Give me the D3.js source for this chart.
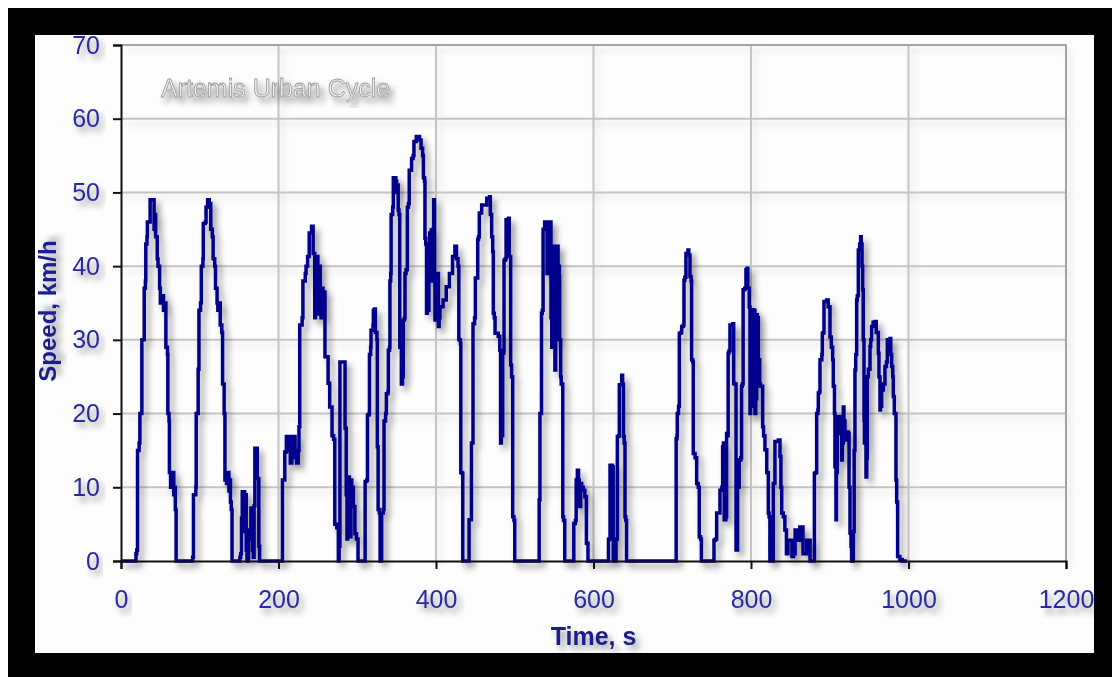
<!DOCTYPE html>
<html>
<head>
<meta charset="utf-8">
<script src="https://cdn.jsdelivr.net/npm/d3@7"></script>
<style>
  html, body { margin: 0; padding: 0; background: #fff; }
  svg { display: block; }
</style>
</head>
<body>
<div id="chart"></div>
<script>
// Artemis Urban Cycle speed trace as [time s, speed km/h]
const idleStart = [[0, 0], [17, 0], [19, 1], [20, 1.5]]
const trip1 = [[21, 15], [23, 16], [24, 20], [26, 20], [26.5, 30], [29, 30], [29.5, 37], [31, 38], [31.5, 43], [33, 44], [33.5, 46], [36, 46], [37, 49], [41, 49], [42, 45], [43, 47], [44, 44], [46, 41], [47, 40], [49, 37], [50, 35], [52, 36], [54, 34], [55, 35], [57, 29], [59, 28], [59.5, 20], [61, 19], [61.5, 12], [63, 10], [65, 12], [67, 9], [68, 10], [69, 7], [70, 0]]
const trip2 = [[90, 0], [91, 0.5], [92, 9], [95, 10], [95.5, 20], [97.5, 20], [98, 26], [99, 34], [101, 35], [102, 40], [104, 41], [104.5, 45.8], [107, 46], [108, 48], [110, 49], [112, 48.5], [114, 45], [116, 44], [117, 41], [119, 40], [120, 37], [122, 35], [123, 34], [125, 35], [126, 32], [128, 31], [129, 24], [131, 20], [132, 11], [134, 10.5], [135, 12], [137, 9.5], [138, 11], [139, 8], [140, 7], [141, 0]]
const trip3 = [[150, 0], [151, 0.5], [152, 1], [153, 5.8], [154, 9.4], [156, 9.4], [157, 4], [158, 9], [159, 1.5], [160, 0], [162, 4.2], [163, 3], [165, 7.2], [166, 7.2], [167, 1.5], [168, 0.5], [169, 7.5], [170, 15.3], [172, 15.3], [173, 11.2], [174, 11.2], [175, 2], [176, 0]]
const trip4 = [[204, 0], [205, 11], [207, 11], [208, 14.8], [210, 16.9], [212, 15], [214, 16.9], [215, 13.3], [217, 15], [219, 16.9], [221, 14], [223, 13.3], [225, 15], [226, 18.2], [227, 32], [230, 33], [231, 38], [234, 39], [235, 40], [237, 41.3], [239, 44.5], [242, 45.4], [244, 41.7], [246, 33], [247, 40], [248.5, 41.3], [250, 33.5], [252, 40], [253, 37], [254, 33], [255, 37], [256.5, 36.5], [259, 27.7], [263, 24.1], [265, 20.9], [268, 17], [270, 16.5], [271.5, 5], [274, 4.5], [276, 0]]
const trip5 = [[277, 2], [278, 27], [284, 27], [284.5, 18], [286, 9], [287, 3], [288, 11], [289, 11.4], [290, 3.3], [292, 11], [293, 10], [295, 7.4], [297, 3.7], [299, 3], [301, 0]]
const trip6 = [[309, 0], [310, 10.8], [312, 11], [313, 19.8], [315, 20], [315.5, 28], [317, 29], [317.5, 31.3], [320, 32], [320.5, 34], [322, 34.2], [323, 31], [325, 30], [325.5, 15.5], [326.5, 7], [328, 6.5], [329, 0], [330, 0], [331, 6.5], [333, 7], [334, 19], [336, 20], [337, 22.7], [339, 23], [339.5, 28.6], [341, 29], [341.5, 38], [342.5, 39], [343, 47], [345, 48], [345.8, 52], [349, 51.5], [350, 50], [351, 51], [352, 47.6], [353, 47], [354, 29], [355, 29.5], [356, 24], [357.5, 25], [358.5, 32.7], [360, 33], [360.6, 39], [362, 39.5], [363.6, 48], [365, 48.5], [366, 53], [368, 53], [369, 54.6], [371, 55], [372, 56.9], [375, 57.6], [379, 57.1], [381, 56], [383, 55], [384, 52], [385.5, 51.5], [386, 43.8], [387, 43], [388, 33.6], [389, 38], [390, 34], [391, 40], [392, 44.5], [394, 44.9], [395, 38], [396, 45], [397, 49], [398, 38], [398.7, 32.7], [400, 39], [401, 36], [402, 39], [403, 31.8], [404, 33], [405, 34.5], [409, 35.4], [413, 37.2], [417, 39], [421, 41.3], [424, 42.7], [426, 41], [428, 40], [429, 30], [431, 29.5], [431.5, 12], [433, 11.9], [434, 0]]
const trip7 = [[441, 0], [442, 5.6], [444, 5.6], [445, 16], [446, 16], [447, 32.2], [449, 33], [450, 38.4], [452, 38.4], [453, 43.6], [454, 44], [455, 47.2], [457, 47.2], [458, 48.3], [463, 48.3], [464.4, 49.2], [468, 49.4], [469, 47], [470.7, 44], [472, 42], [472.8, 33.6], [474, 33], [475, 30.9], [479, 30.5], [481, 28.6], [482, 16], [483, 17], [484.7, 28.2], [486, 28.5], [486.4, 40.8], [488, 41], [489, 46.3], [492, 46.5], [493, 41.3], [494.8, 26.6], [496, 25], [497.4, 6], [499, 5.5], [500, 0]]
const trip8 = [[530, 0], [531, 8.3], [532, 20], [533, 20], [534, 33.6], [535, 34], [536, 45], [538, 46], [540, 46], [541, 39], [542, 40], [543, 46], [545, 46], [546, 33], [547, 29], [548, 35], [549, 42.7], [550, 42], [551, 25.9], [552, 30], [553, 40], [554, 42.7], [555, 40], [556.6, 38.6], [557, 30], [558.3, 25], [559, 24], [561, 6], [562, 5.5], [563.5, 0]]
const trip9 = [[574, 0], [575, 5.1], [577, 5.5], [578, 11], [579.5, 12.3], [581, 11], [582, 7.4], [583.7, 10.5], [585, 10], [587, 9.6], [589, 8.7], [591, 2.4], [593, 0]]
const trip10 = [[618, 0], [619, 2.9], [620, 3], [621, 13], [624, 12.8], [625, 0], [628, 0], [628.6, 2.9], [629.5, 3], [630.3, 16.9], [632, 17], [632.8, 23.9], [635.8, 25.2], [637, 24], [638, 16.9], [639, 16], [640, 6], [641, 5.5], [642, 0]]
const trip11 = [[704, 0], [705, 16.6], [706, 17], [706.4, 20], [708, 21], [709, 30.9], [711, 31], [712, 31.8], [714, 32], [714.9, 38.1], [716, 38.5], [717.4, 41.7], [720, 42.2], [721, 41.5], [722.5, 38.6], [724, 38], [724.6, 27.3], [726, 27], [726.7, 14.6], [729, 14], [731, 10.5], [733, 10], [734.3, 3.3], [736, 3], [737, 0]]
const trip12 = [[752, 0], [753, 2.8], [755, 3], [756.4, 6.5], [759, 6.5], [760.6, 9.6], [763, 10], [764, 15.5], [765, 16], [766, 5.6], [768, 6], [769, 17.3], [770, 17], [771, 28.2], [772, 28.5], [773.3, 32], [777, 32.2], [778, 24.1], [779, 24], [781, 1.5], [782, 1.5], [783, 10], [785, 13.7], [787, 14], [788, 23.7], [789, 24], [790, 36.8], [792, 37], [793.6, 39.5], [795, 39.7], [796, 37], [797.8, 34.5], [798.7, 20], [799.5, 21], [800.8, 34.1], [803, 34], [805, 20], [806, 22], [807.2, 33.4], [808, 33], [809.3, 27.3], [811, 24], [812, 23.7], [814.8, 18.2], [816, 17], [817.7, 15.1], [820, 12], [822, 6.5], [823, 6], [824, 0], [827, 0], [828.3, 10.5], [829, 10.5], [830.4, 16.2], [834.7, 16.4], [836.8, 14.2], [838, 10], [839, 6.5], [841, 6], [843, 4.2], [845, 1], [847, 2.8], [850, 2.8], [852, 0.6], [854, 1], [856, 4.2], [858, 4.2], [860, 2.8], [862, 4.6], [864, 4.6], [866, 1], [868, 1], [870.7, 2.8], [873, 2.8], [875, 0]]
const trip13 = [[880, 0], [880.5, 11.9], [882, 12], [883.4, 20], [885, 20.5], [885.5, 22.8], [887, 23], [887.6, 27.3], [890, 28], [890.6, 30.9], [892, 31], [892.7, 35.2], [896, 35.4], [898, 34.5], [900.3, 30.4], [902, 29], [903.7, 27.3], [904.5, 23.7], [906, 20], [906.6, 12.8], [907.9, 5.6], [908.5, 12], [909.6, 19.6], [911, 18], [912.1, 17.3], [913, 19.6], [914, 18], [915.1, 13.7], [916, 16], [917.2, 20.9], [918, 19], [919.3, 16.4], [921, 17.5], [923.6, 17.3], [924.5, 10], [925.7, 3.8], [927, 2], [927.8, 0], [929, 0], [930, 4], [931, 15], [932, 25.9], [933, 28], [934.2, 35.4], [935, 36], [936.3, 42.2], [938, 43], [939.2, 44], [940, 43], [941, 40], [941.8, 36.8], [942.5, 30], [943.5, 19.1], [944, 16], [946, 11.4], [947, 14], [947.7, 25], [949, 26], [951.1, 29.1], [952, 30], [953.2, 31.8], [955, 32.4], [957.4, 32.5], [959, 31], [961.7, 28.2], [962.5, 25], [963.8, 20.5], [964.5, 21], [965.9, 23.2], [968, 24], [970.1, 26.4], [972, 27], [973.1, 30], [976.5, 30.2], [977.5, 28], [978.6, 26.4], [980, 25], [980.7, 22.3], [982, 20], [984.1, 11], [985, 8], [986.2, 0.6], [989, 0.2], [992, 0], [998, 0]]

const xTicks = [0, 200, 400, 600, 800, 1000, 1200]
const yTicks = [0, 10, 20, 30, 40, 50, 60, 70]
const chartTitle = "Artemis Urban Cycle"
const xTitle = "Time, s"
const yTitle = "Speed, km/h"

const trace = [].concat(idleStart, trip1, trip2, trip3, trip4, trip5, trip6,
  trip7, trip8, trip9, trip10, trip11, trip12, trip13)

const width = 1112
const height = 677
const margin = { top: 45, right: 46, bottom: 116, left: 121 }
const innerW = width - margin.left - margin.right
const innerH = height - margin.top - margin.bottom

const root = d3.select("#chart")
  .append("svg")
  .attr("width", width)
  .attr("height", height)

// soft drop shadow used on nearly everything in the original
const defs = root.append("defs")
const shadow = defs.append("filter").attr("id", "shadow")
  .attr("x", "-20%").attr("y", "-20%").attr("width", "140%").attr("height", "140%")
shadow.append("feDropShadow")
  .attr("dx", 4).attr("dy", 5).attr("stdDeviation", 3)
  .attr("flood-color", "#000").attr("flood-opacity", 0.4)
const gridShadow = defs.append("filter").attr("id", "gridShadow")
  .attr("x", "-5%").attr("y", "-5%").attr("width", "110%").attr("height", "110%")
gridShadow.append("feDropShadow")
  .attr("dx", 4).attr("dy", 5).attr("stdDeviation", 3)
  .attr("flood-color", "#000").attr("flood-opacity", 0.12)

// --- black frame + white panel ---
root.append("rect").attr("x", 8).attr("y", 8)
  .attr("width", width - 8).attr("height", height - 8).attr("fill", "#000")
root.append("rect").attr("x", 35).attr("y", 35)
  .attr("width", 1059).attr("height", 618).attr("fill", "#fdfdfd")

const svg = root.append("g")
  .attr("transform", `translate(${margin.left},${margin.top})`)

const x = d3.scaleLinear().domain([0, 1200]).range([0, innerW])
const y = d3.scaleLinear().domain([0, 70]).range([innerH, 0])

// --- gridlines ---
const grid = svg.append("g").attr("filter", "url(#gridShadow)")
grid.selectAll(".vgrid")
  .data(xTicks.slice(1))
  .join("line")
  .attr("x1", d => x(d)).attr("x2", d => x(d))
  .attr("y1", 0).attr("y2", innerH)
  .attr("stroke", "#c4c4c4").attr("stroke-width", 2)
grid.selectAll(".hgrid")
  .data(yTicks.slice(1))
  .join("line")
  .attr("x1", 0).attr("x2", innerW)
  .attr("y1", d => y(d)).attr("y2", d => y(d))
  .attr("stroke", "#c4c4c4").attr("stroke-width", 2)

// plot border (top/right in grey)
svg.append("path")
  .attr("d", `M0,0H${innerW}V${innerH}`)
  .attr("fill", "none").attr("stroke", "#999").attr("stroke-width", 1.5)

// --- speed trace ---
const line = d3.line()
  .x(d => x(d[0]))
  .y(d => y(d[1]))
  .curve(d3.curveStepAfter)

svg.append("path")
  .datum(trace)
  .attr("d", line)
  .attr("fill", "none")
  .attr("stroke", "#00008c")
  .attr("stroke-width", 3.5)
  .attr("stroke-linejoin", "miter")
  .attr("filter", "url(#shadow)")

// --- axes ---
const xAxis = d3.axisBottom(x).tickValues(xTicks).tickSize(8).tickPadding(21)
  .tickFormat(d3.format("d"))
const yAxis = d3.axisLeft(y).tickValues(yTicks).tickSize(8).tickPadding(13)
  .tickFormat(d3.format("d"))

const gx = svg.append("g")
  .attr("transform", `translate(0,${innerH})`)
  .call(xAxis)
const gy = svg.append("g").call(yAxis)

for (const g of [gx, gy]) {
  g.select(".domain").attr("stroke", "#111").attr("stroke-width", 2)
  g.selectAll(".tick line").attr("stroke", "#111").attr("stroke-width", 2)
  g.selectAll("text")
    .attr("fill", "#2a2aa4")
    .attr("font-family", "Arial, 'Liberation Sans', sans-serif")
    .attr("font-size", "25px")
    .attr("filter", "url(#shadow)")
}

// --- titles ---
svg.append("text")
  .attr("x", innerW / 2)
  .attr("y", innerH + 84)
  .attr("text-anchor", "middle")
  .attr("fill", "#1c1c8c")
  .attr("font-family", "Arial, 'Liberation Sans', sans-serif")
  .attr("font-size", "25px")
  .attr("font-weight", "bold")
  .attr("filter", "url(#shadow)")
  .text(xTitle)

svg.append("text")
  .attr("transform", `translate(${-65},${innerH / 2 + 8}) rotate(-90)`)
  .attr("text-anchor", "middle")
  .attr("fill", "#1c1c8c")
  .attr("font-family", "Arial, 'Liberation Sans', sans-serif")
  .attr("font-size", "24px")
  .attr("font-weight", "bold")
  .attr("filter", "url(#shadow)")
  .text(yTitle)

svg.append("text")
  .attr("x", 40)
  .attr("y", 52)
  .attr("fill", "#eeeeee")
  .attr("stroke", "#9a9a9a")
  .attr("stroke-width", 0.8)
  .attr("font-family", "Arial, 'Liberation Sans', sans-serif")
  .attr("font-size", "25px")
  .attr("filter", "url(#shadow)")
  .text(chartTitle)
</script>
</body>
</html>
